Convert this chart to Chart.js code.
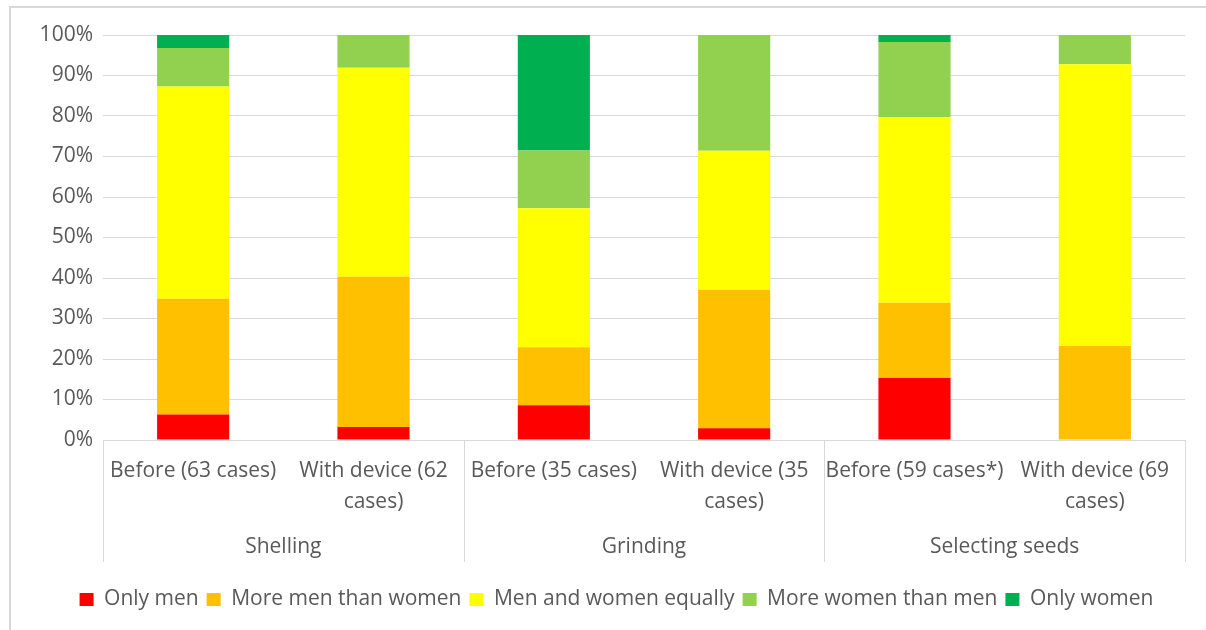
<!DOCTYPE html>
<html>
<head>
<meta charset="utf-8">
<title>Who does the work: before and with the device</title>
<script src="https://cdn.jsdelivr.net/npm/chart.js@4.4.1/dist/chart.umd.min.js"></script>
<style>
  html, body { margin: 0; padding: 0; background: #ffffff; }
  #wrap { width: 1206px; height: 630px; position: relative; overflow: hidden; }
  canvas { display: block; }
</style>
</head>
<body>
<div id="wrap"><canvas id="chart" width="1206" height="630"></canvas></div>
<script>
// Category labels (wrapped the way they appear under each bar)
const categories = [
  ["Before (63 cases)"],
  ["With device (62", "cases)"],
  ["Before (35 cases)"],
  ["With device (35", "cases)"],
  ["Before (59 cases*)"],
  ["With device (69", "cases)"]
];
// Task groups, two bars each
const groups = ["Shelling", "Grinding", "Selecting seeds"];

// Share of cases (%) per answer
const onlyMen      = [6.3, 3.2, 8.6, 2.9, 15.3, 0];
const moreMen      = [28.6, 37.1, 14.3, 34.2, 18.6, 23.2];
const equally      = [52.4, 51.6, 34.3, 34.3, 45.8, 69.6];
const moreWomen    = [9.5, 8.1, 14.3, 28.6, 18.6, 7.2];
const onlyWomen    = [3.2, 0, 28.5, 0, 1.7, 0];

const seriesNames  = ["Only men", "More men than women", "Men and women equally", "More women than men", "Only women"];
const seriesColors = ["#FF0000", "#FFC000", "#FFFF00", "#92D050", "#00B050"];
const seriesValues = [onlyMen, moreMen, equally, moreWomen, onlyWomen];

const yTickValues = [0, 10, 20, 30, 40, 50, 60, 70, 80, 90, 100];

const TEXT = "#595959";
const LINE = "#D9D9D9";
const FONT = "'Open Sans', 'DejaVu Sans', sans-serif";

// Frame, group separators and group names under the category labels
const groupAxis = {
  id: "groupAxis",
  afterLayout(chart) {
    // legend row sits a little right of the canvas centre
    const lg = chart.legend;
    if (lg) { lg.left += 18; lg.right += 18; }
  },
  beforeDraw(chart) {
    const ctx = chart.ctx;
    ctx.save();
    ctx.strokeStyle = LINE;
    ctx.lineWidth = 2;
    ctx.strokeRect(10, 7, 1400, 800);
    ctx.restore();
  },
  afterDraw(chart) {
    const ctx = chart.ctx;
    const x = chart.scales.x;
    const area = chart.chartArea;
    const top = area.bottom;
    const bottom = area.bottom + 122;
    const step = (area.right - area.left) / categories.length;
    ctx.save();
    ctx.strokeStyle = LINE;
    ctx.lineWidth = 1;
    for (let g = 0; g <= groups.length; g++) {
      const px = Math.round(area.left + g * 2 * step) + 0.5;
      ctx.beginPath();
      ctx.moveTo(px, top);
      ctx.lineTo(px, bottom);
      ctx.stroke();
    }
    ctx.fillStyle = TEXT;
    ctx.font = "21px " + FONT;
    ctx.textAlign = "center";
    ctx.textBaseline = "middle";
    groups.forEach((name, g) => {
      const cx = (x.getPixelForValue(g * 2) + x.getPixelForValue(g * 2 + 1)) / 2;
      ctx.fillText(name, cx, area.bottom + 107);
    });
    ctx.restore();
  }
};

function draw() {
  Chart.defaults.font.family = FONT;
  Chart.defaults.font.size = 21;
  Chart.defaults.color = TEXT;

  new Chart(document.getElementById("chart"), {
    type: "bar",
    data: {
      labels: categories,
      datasets: seriesNames.map((name, i) => ({
        label: name,
        data: seriesValues[i],
        backgroundColor: seriesColors[i],
        borderWidth: 0,
        barPercentage: 0.4,
        categoryPercentage: 1.0
      }))
    },
    options: {
      responsive: false,
      animation: false,
      devicePixelRatio: 1,
      layout: { padding: { left: 12, right: 21, top: 35, bottom: 10 } },
      plugins: {
        tooltip: { enabled: false },
        legend: {
          position: "bottom",
          labels: {
            boxWidth: 14,
            boxHeight: 13,
            padding: 8,
            color: TEXT,
            font: { family: FONT, size: 21 }
          }
        }
      },
      scales: {
        x: {
          stacked: true,
          grid: { display: false, drawTicks: false },
          border: { display: true, color: LINE, width: 1 },
          ticks: {
            maxRotation: 0,
            minRotation: 0,
            autoSkip: false,
            padding: 16,
            color: TEXT,
            font: { family: FONT, size: 21, lineHeight: 1.45 }
          },
          afterFit(scale) { scale.height = 141; }
        },
        y: {
          stacked: true,
          min: 0,
          max: 100,
          afterBuildTicks(scale) { scale.ticks = yTickValues.map(v => ({ value: v })); },
          grid: { color: LINE, lineWidth: 1, drawTicks: false },
          border: { display: false },
          ticks: {
            padding: 10,
            color: TEXT,
            font: { family: FONT, size: 21 },
            callback: v => v + "%"
          },
          afterFit(scale) { scale.width = 91; }
        }
      }
    },
    plugins: [groupAxis]
  });
}

if (document.fonts && document.fonts.load) {
  document.fonts.load("21px 'Open Sans'").then(draw, draw);
} else {
  draw();
}
</script>
</body>
</html>
